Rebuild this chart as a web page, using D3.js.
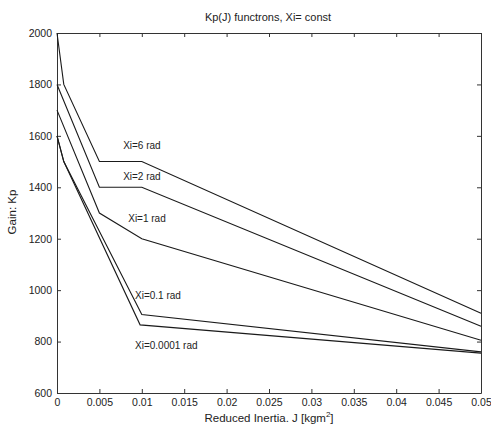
<!DOCTYPE html>
<html><head><meta charset="utf-8">
<script src="https://cdn.jsdelivr.net/npm/d3@7"></script>
<style>body{margin:0;background:#fff}svg{display:block}text{font-family:"Liberation Sans",Arial,sans-serif;fill:#222}</style>
</head><body><div id="chart"></div>
<script>
const xTicks=[0,0.005,0.01,0.015,0.02,0.025,0.03,0.035,0.04,0.045,0.05];
const xTickLabels=["0","0.005","0.01","0.015","0.02","0.025","0.03","0.035","0.04","0.045","0.05"];
const yTicks=[600,800,1000,1200,1400,1600,1800,2000];
const seriesNames=["Xi=6 rad","Xi=2 rad","Xi=1 rad","Xi=0.1 rad","Xi=0.0001 rad"];
const xi6J=[0,0.0008,0.005,0.01,0.05];   const xi6Kp=[2000,1800,1500,1500,910];
const xi2J=[0,0.005,0.01,0.05];          const xi2Kp=[1800,1400,1400,860];
const xi1J=[0,0.005,0.01,0.05];          const xi1Kp=[1700,1300,1200,805];
const xi01J=[0,0.0008,0.01,0.05];        const xi01Kp=[1600,1500,905,760];
const xi00J=[0,0.0008,0.0098,0.05];      const xi00Kp=[1600,1500,865,755];
const labelJ=[0.0078,0.0078,0.0084,0.0092,0.0092];
const labelKp=[1550,1430,1265,965,770];

const W=491,H=432, m={l:57,r:10,t:33,b:39};
const svg=d3.select("#chart").append("svg").attr("width",W).attr("height",H);
const x=d3.scaleLinear().domain([0,0.05]).range([m.l,W-m.r]);
const y=d3.scaleLinear().domain([600,2000]).range([H-m.b,m.t]);
const g=svg.append("g");
// axes
const fmt=(d,i)=>xTickLabels[xTicks.indexOf(d)];
g.append("g").attr("transform",`translate(0,${H-m.b})`).call(d3.axisBottom(x).tickValues(xTicks).tickFormat(fmt).tickSizeInner(-4).tickSizeOuter(0).tickPadding(6));
g.append("g").attr("transform",`translate(0,${m.t})`).call(d3.axisTop(x).tickValues(xTicks).tickFormat("").tickSizeInner(-4).tickSizeOuter(0));
g.append("g").attr("transform",`translate(${m.l},0)`).call(d3.axisLeft(y).tickValues(yTicks).tickFormat(d3.format("d")).tickSizeInner(-4).tickSizeOuter(0).tickPadding(5));
g.append("g").attr("transform",`translate(${W-m.r},0)`).call(d3.axisRight(y).tickValues(yTicks).tickFormat("").tickSizeInner(-4).tickSizeOuter(0));
svg.selectAll(".domain").attr("stroke","#333");
svg.selectAll(".tick line").attr("stroke","#333");
svg.selectAll(".tick text").attr("font-size",10.5).attr("fill","#222").attr("font-family","Liberation Sans, Arial, sans-serif");
// lines
const data=[[xi6J,xi6Kp],[xi2J,xi2Kp],[xi1J,xi1Kp],[xi01J,xi01Kp],[xi00J,xi00Kp]];
const line=d3.line().x(d=>x(d[0])).y(d=>y(d[1]));
data.forEach(([J,K])=>{
  svg.append("path").datum(J.map((j,i)=>[j,K[i]])).attr("d",line).attr("fill","none").attr("stroke","#1a1a1a").attr("stroke-width",1.1);
});
seriesNames.forEach((n,i)=>{
  svg.append("text").attr("x",x(labelJ[i])).attr("y",y(labelKp[i])).attr("font-size",10).text(n);
});
svg.append("text").attr("x",268).attr("y",21).attr("text-anchor","middle").attr("font-size",11).text("Kp(J) functrons, Xi= const");
const xl=svg.append("text").attr("x",269).attr("y",422).attr("text-anchor","middle").attr("font-size",11.5);
xl.append("tspan").text("Reduced Inertia. J [kgm");
xl.append("tspan").attr("dy",-5).attr("font-size",8).text("2");
xl.append("tspan").attr("dy",5).text("]");
svg.append("text").attr("transform","translate(16,212) rotate(-90)").attr("text-anchor","middle").attr("font-size",11.5).text("Gain: Kp");
</script></body></html>
